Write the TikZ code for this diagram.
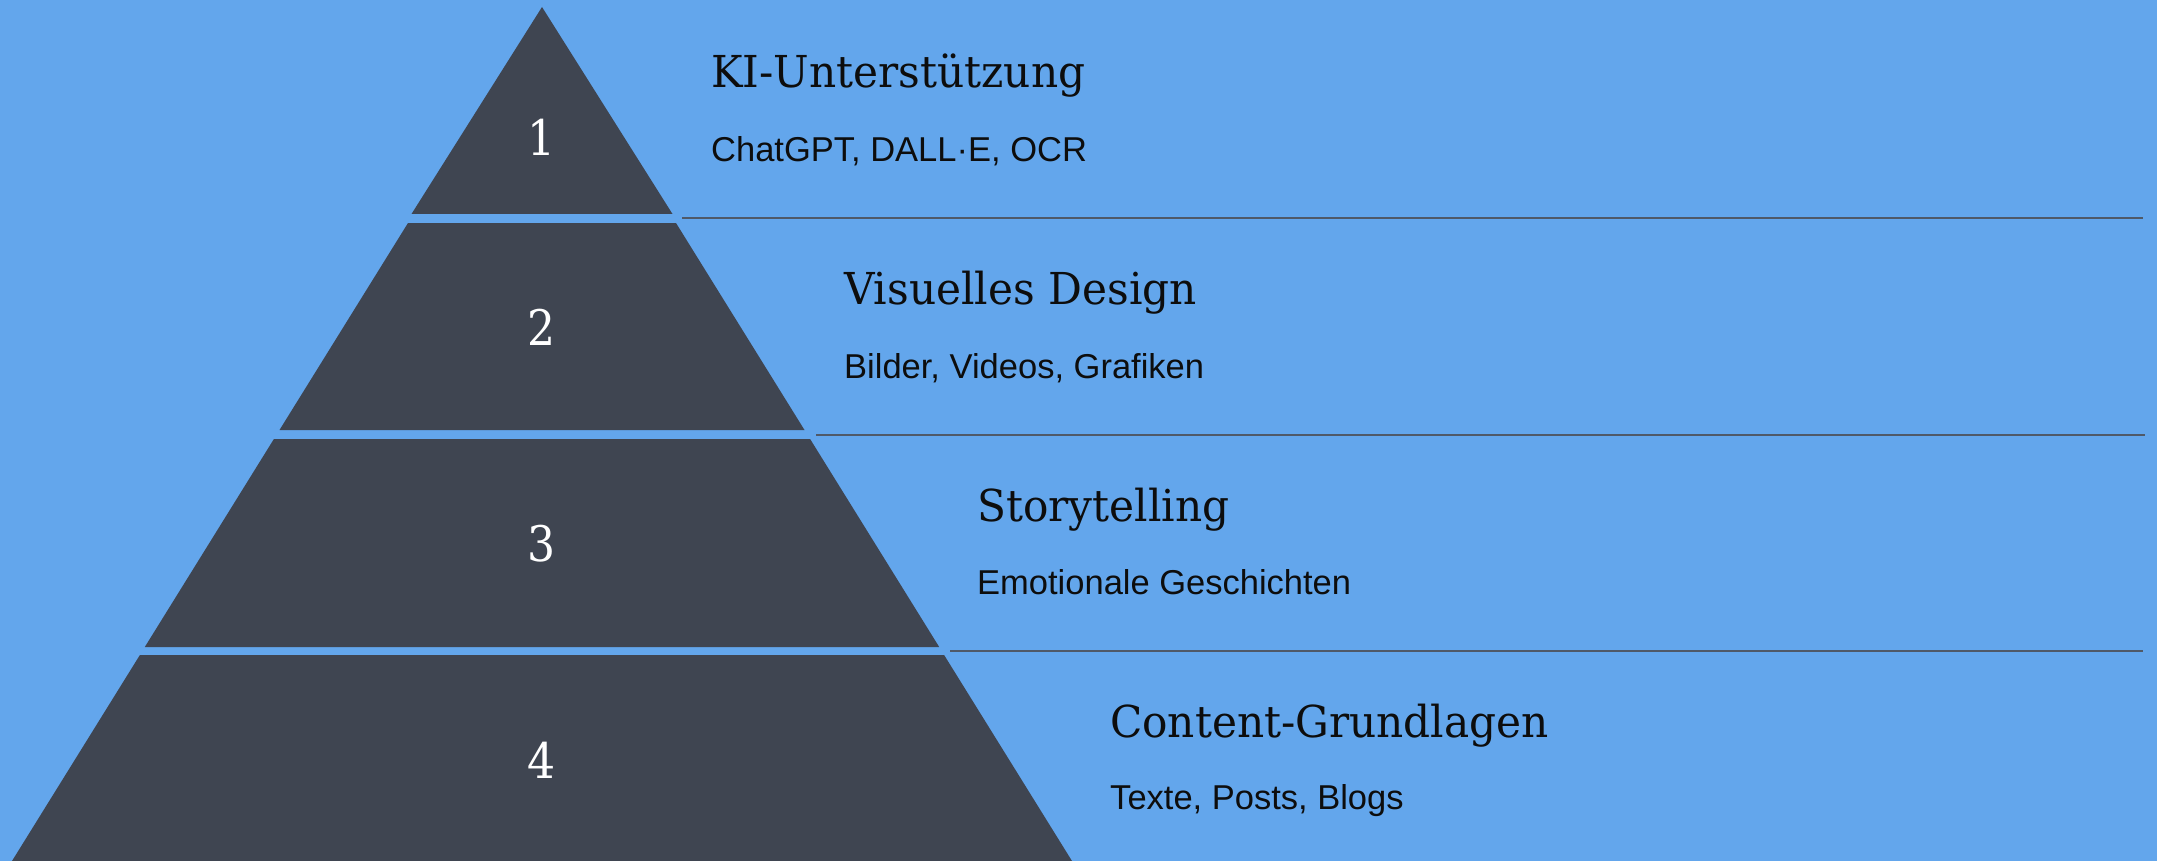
\documentclass[tikz,border=0pt]{standalone}
\usepackage{fontspec}
\setmainfont{Liberation Sans}
\newfontfamily\titlefont{DejaVu Serif}[FakeStretch=0.96]
\newfontfamily\numfont{DejaVu Serif}[FakeStretch=0.9]
\newfontfamily\subfont{Liberation Sans}
\definecolor{bgblue}{HTML}{63A6EC}
\definecolor{pyr}{HTML}{3F4551}
\definecolor{sepline}{HTML}{4F5968}
\definecolor{txt}{HTML}{0D0D0D}
\tikzset{
  tier/.style={fill=pyr},
  num/.style={text=white, inner sep=0pt, font=\numfont\fontsize{49}{54}\selectfont},
  ttl/.style={text=txt, anchor=base west, inner sep=0pt, font=\titlefont\fontsize{44}{50}\selectfont},
  sub/.style={text=txt, anchor=base west, inner sep=0pt, font=\subfont\fontsize{34.5}{40}\selectfont},
  sep/.style={draw=sepline, line width=2pt},
}
\begin{document}
\begin{tikzpicture}[x=1pt,y=-1pt]
\fill[bgblue] (0,0) rectangle (2157,861);
\useasboundingbox (0,0) rectangle (2157,861);
% pyramid tiers
\fill[tier] (542,7) -- (672.5,214) -- (411.5,214) -- cycle;
\fill[tier] (408,223) -- (676,223) -- (804.5,430) -- (279.5,430) -- cycle;
\fill[tier] (273.9,439) -- (810.1,439) -- (939.2,647) -- (144.8,647) -- cycle;
\fill[tier] (139.9,655) -- (944.1,655) -- (1072,861) -- (12,861) -- cycle;
% separator lines
\coordinate (s1a) at (682,218.5); \coordinate (s1b) at (2143,218.5);
\coordinate (s2a) at (816,434.5); \coordinate (s2b) at (2145,434.5);
\coordinate (s3a) at (950,651);   \coordinate (s3b) at (2143,651);
\draw[sep] (s1a) -- (s1b);
\draw[sep] (s2a) -- (s2b);
\draw[sep] (s3a) -- (s3b);
% numbers
\node[num] (n1) at (542,137) {1};
\node[num] (n2) at (542,327) {2};
\node[num] (n3) at (542,544) {3};
\node[num] (n4) at (542,760) {4};
% titles and subtitles
\node[ttl] (t1) at (711,88) {KI-Unterstützung};
\node[sub] (d1) at (711,162) {ChatGPT, DALL·E, OCR};
\node[ttl] (t2) at (844,304) {Visuelles Design};
\node[sub] (d2) at (844,378) {Bilder, Videos, Grafiken};
\node[ttl] (t3) at (977,521) {Storytelling};
\node[sub] (d3) at (977,594) {Emotionale Geschichten};
\node[ttl] (t4) at (1110,737) {Content-Grundlagen};
\node[sub] (d4) at (1110,809) {Texte, Posts, Blogs};
\end{tikzpicture}
\end{document}
